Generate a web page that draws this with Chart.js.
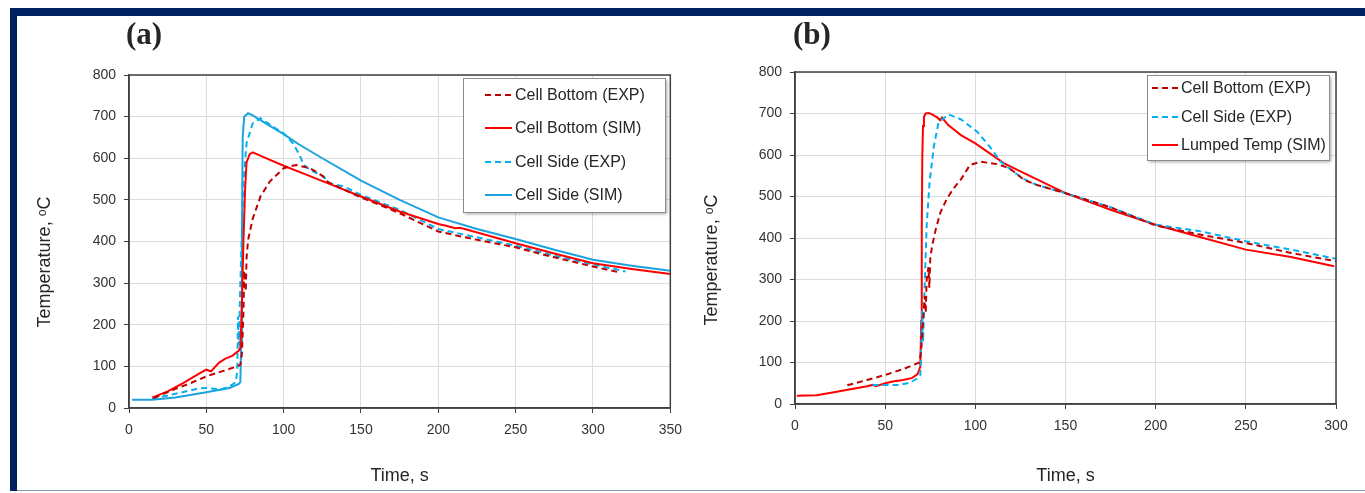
<!DOCTYPE html>
<html>
<head>
<meta charset="utf-8">
<script src="https://cdn.jsdelivr.net/npm/chart.js@4.4.1/dist/chart.umd.min.js"></script>
<style>
  html, body { margin: 0; padding: 0; background: #fff; }
  body { width: 1365px; height: 493px; position: relative; overflow: hidden; }
  .band { position: absolute; background: #002060; }
  #bandTop { left: 10px; top: 8px; width: 1355px; height: 8px; }
  #bandLeft { left: 10px; top: 8px; width: 7px; height: 483px; }
  #lineBottom { position: absolute; left: 17px; top: 490px; width: 1348px; height: 1px; background: #8497b0; }
  .panel { position: absolute; top: 16px; height: 474px; }
  #boxA { left: 17px; width: 674px; }
  #boxB { left: 687px; width: 678px; }
</style>
</head>
<body>
<div class="band" id="bandTop"></div>
<div class="band" id="bandLeft"></div>
<div id="lineBottom"></div>
<div class="panel" id="boxA"><canvas id="chartA"></canvas></div>
<div class="panel" id="boxB"><canvas id="chartB"></canvas></div>
<script>
// ---- panel (a) ----
var aBottomExpTime = [16, 30, 40, 50, 60, 70, 72, 73, 74, 74.5, 75, 75.5, 76, 77, 80, 85, 91, 100, 108, 117, 125, 129, 137, 150, 175, 200, 225, 250, 275, 300, 318];
var aBottomExpTemp = [24, 46, 60, 76, 88, 100, 104, 130, 230, 330, 300, 280, 360, 404, 455, 508, 544, 576, 584, 576, 558, 542, 528, 506, 468, 424, 404, 386, 362, 340, 325];

var aBottomSimTime = [15, 25, 35, 45, 50, 53, 58, 62, 67, 71, 72, 73, 74, 75, 76, 78, 80, 90, 100, 115, 130, 150, 175, 200, 205, 211, 214, 220, 250, 275, 300, 325, 350];
var aBottomSimTemp = [25, 40, 60, 82, 92, 88, 108, 118, 126, 138, 145, 250, 400, 520, 590, 610, 614, 598, 582, 560, 538, 508, 472, 442, 438, 432, 433, 427, 396, 371, 348, 334, 322];

var aSideExpTime = [15, 30, 45, 50, 55, 60, 65, 69, 70, 70.5, 71, 72, 73, 74, 76, 80, 85, 93, 100, 106, 110, 113, 117, 126, 129, 139, 150, 175, 200, 225, 250, 275, 300, 321];
var aSideExpTemp = [22, 34, 47, 48, 46, 45, 52, 62, 90, 220, 150, 300, 420, 540, 636, 684, 696, 676, 660, 636, 610, 584, 572, 556, 540, 532, 512, 476, 430, 410, 390, 366, 345, 328];

var aSideSimTime = [2, 15, 30, 50, 65, 71, 72, 72.5, 73, 73.5, 74.5, 77, 80, 90, 100, 110, 125, 150, 175, 200, 225, 250, 275, 300, 325, 350];
var aSideSimTemp = [20, 20, 25, 38, 48, 58, 62, 150, 400, 650, 700, 708, 703, 680, 658, 633, 600, 546, 500, 458, 430, 406, 380, 356, 342, 330];

// ---- panel (b) ----
var bBottomExpTime = [29, 40, 50, 60, 69, 70, 71, 72, 72.5, 73, 74, 74.5, 75, 76, 78, 80.6, 84, 88, 92, 97, 103, 112, 119, 127, 134, 150, 175, 200, 225, 250, 275, 300];
var bBottomExpTemp = [45, 58, 70, 84, 100, 130, 200, 260, 220, 300, 330, 280, 350, 380, 420, 461, 493, 520, 541, 576, 584, 578, 568, 540, 528, 508, 474, 430, 408, 388, 364, 344];

var bSideExpTime = [43, 50, 58, 64, 68, 69.5, 70.5, 71, 72, 73, 74.6, 77, 79.6, 85, 92, 101, 108, 114, 121, 127, 134, 150, 175, 200, 225, 250, 275, 300];
var bSideExpTemp = [46, 46, 46, 52, 62, 68, 225, 150, 300, 429, 533, 621, 678, 698, 686, 656, 620, 584, 560, 542, 528, 508, 474, 432, 416, 392, 372, 350];

var bLumpedTime = [1, 12, 20, 30, 40, 43, 45, 50, 55, 60, 65, 68, 69.5, 70, 70.3, 70.6, 71, 71.5, 72.5, 74, 76, 79, 80.5, 81.5, 85, 92, 100, 116, 129, 150, 175, 200, 225, 250, 275, 299];
var bLumpedTemp = [20, 21, 27, 35, 43, 46, 43, 50, 55, 58, 63, 72, 90, 200, 420, 600, 670, 692, 700, 701, 698, 690, 684, 690, 672, 648, 628, 580, 552, 508, 468, 432, 402, 372, 354, 332];

var yTitle = 'Temperature, \u1D52C';
var xTitle = 'Time, s';

var darkRed = '#C00000';
var red = '#FF0000';
var cyan = '#00B0F0';
var blue = '#1AA3DD';

var sans = '"Liberation Sans", Arial, sans-serif';

function pairs(ts, vs) {
  return ts.map(function(t, i) { return {x: t, y: vs[i]}; });
}

function serie(label, ts, vs, color, dashed) {
  return {
    label: label,
    data: pairs(ts, vs),
    borderColor: color,
    backgroundColor: color,
    borderWidth: 2,
    borderDash: dashed ? [6, 4] : [],
    pointRadius: 0,
    tension: 0,
    fill: false
  };
}

// moldura, rótulo do painel, título do eixo y e legenda desenhados à mão
var decorPlugin = {
  id: 'decor',
  afterDraw: function(chart, args, opts) {
    var ctx = chart.ctx;
    var a = chart.chartArea;
    ctx.save();
    ctx.strokeStyle = '#404040';
    ctx.lineWidth = 1.5;
    ctx.strokeRect(a.left, a.top, a.right - a.left, a.bottom - a.top);

    ctx.fillStyle = '#262626';
    ctx.font = 'bold 31px "Liberation Serif", "Times New Roman", serif';
    ctx.textBaseline = 'middle';
    ctx.textAlign = 'left';
    ctx.fillText(opts.panel, opts.panelX, 20);

    // título do eixo y
    ctx.save();
    ctx.font = '18px ' + sans;
    ctx.textAlign = 'center';
    ctx.translate(opts.yTitleX, opts.yTitleY);
    ctx.rotate(-Math.PI / 2);
    ctx.fillText(yTitle, 0, 0);
    ctx.restore();

    var L = opts.legend;
    ctx.shadowColor = 'rgba(0,0,0,0.35)';
    ctx.shadowBlur = 3;
    ctx.shadowOffsetX = 2;
    ctx.shadowOffsetY = 2;
    ctx.fillStyle = '#fff';
    ctx.fillRect(L.x, L.y, L.w, L.h);
    ctx.shadowColor = 'transparent';
    ctx.strokeStyle = '#8c8c8c';
    ctx.lineWidth = 1;
    ctx.strokeRect(L.x + 0.5, L.y + 0.5, L.w, L.h);

    ctx.font = '16px ' + sans;
    ctx.textAlign = 'left';
    chart.data.datasets.forEach(function(ds, i) {
      var yy = L.rows[i];
      ctx.strokeStyle = ds.borderColor;
      ctx.lineWidth = 2;
      ctx.setLineDash(ds.borderDash);
      ctx.beginPath();
      ctx.moveTo(L.lineX0, yy);
      ctx.lineTo(L.lineX1, yy);
      ctx.stroke();
      ctx.setLineDash([]);
      ctx.fillStyle = '#262626';
      ctx.fillText(ds.label, L.textX, yy + 1);
    });
    ctx.restore();
  }
};

function options(xMax, yWidth, rightPad, topPad, xHeight, decor) {
  return {
    responsive: true,
    maintainAspectRatio: false,
    animation: false,
    layout: { padding: { left: 0, right: rightPad, top: topPad, bottom: 0 } },
    scales: {
      x: {
        type: 'linear',
        min: 0,
        max: xMax,
        afterFit: function(s) { s.height = xHeight; },
        ticks: { stepSize: 50, color: '#333', padding: 9, font: { family: sans, size: 14 } },
        grid: { color: '#dcdcdc', tickColor: '#404040', tickLength: 5 },
        border: { color: '#404040', width: 1.5 },
        title: { display: true, text: xTitle, color: '#262626', padding: { top: 0, bottom: 3 }, font: { family: sans, size: 18 } }
      },
      y: {
        min: 0,
        max: 800,
        afterFit: function(s) { s.width = yWidth; },
        ticks: { stepSize: 100, color: '#333', padding: 8, font: { family: sans, size: 14 } },
        grid: { color: '#dcdcdc', tickColor: '#404040', tickLength: 5 },
        border: { color: '#404040', width: 1.5 },
        title: { display: false }
      }
    },
    plugins: {
      legend: { display: false },
      tooltip: { enabled: false },
      decor: decor
    }
  };
}

new Chart(document.getElementById('chartA'), {
  type: 'line',
  data: {
    datasets: [
      serie('Cell Bottom (EXP)', aBottomExpTime, aBottomExpTemp, darkRed, true),
      serie('Cell Bottom (SIM)', aBottomSimTime, aBottomSimTemp, red, false),
      serie('Cell Side (EXP)', aSideExpTime, aSideExpTemp, cyan, true),
      serie('Cell Side (SIM)', aSideSimTime, aSideSimTemp, blue, false)
    ]
  },
  options: options(350, 112, 13, 59, 82, {
    panel: '(a)', panelX: 109, yTitleX: 28, yTitleY: 246,
    legend: { x: 446, y: 62, w: 202, h: 134, rows: [79, 112, 146, 179], lineX0: 468, lineX1: 495, textX: 498 }
  }),
  plugins: [decorPlugin]
});

new Chart(document.getElementById('chartB'), {
  type: 'line',
  data: {
    datasets: [
      serie('Cell Bottom (EXP)', bBottomExpTime, bBottomExpTemp, darkRed, true),
      serie('Cell Side (EXP)', bSideExpTime, bSideExpTemp, cyan, true),
      serie('Lumped Temp (SIM)', bLumpedTime, bLumpedTemp, red, false)
    ]
  },
  options: options(300, 108, 29, 56, 86, {
    panel: '(b)', panelX: 106, yTitleX: 25, yTitleY: 244,
    legend: { x: 460, y: 59, w: 182, h: 85, rows: [72, 101, 129], lineX0: 465, lineX1: 491, textX: 494 }
  }),
  plugins: [decorPlugin]
});
</script>
</body>
</html>
